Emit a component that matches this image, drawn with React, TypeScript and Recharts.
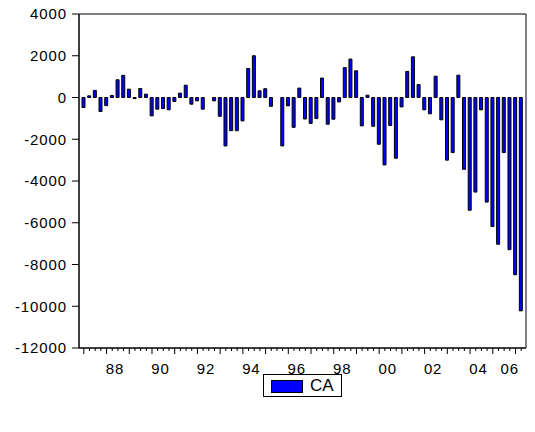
import React from "react";
import { BarChart, Bar, XAxis, YAxis, ReferenceArea } from "recharts";

// Quarterly series, 1987Q1 .. 2006Q2
const START_YEAR = 1987;

const caValues: number[] = [
  -480, 80, 340, -670,
  -390, 100, 850, 1060,
  400, -50, 430, 160,
  -880, -560, -530, -590,
  -190, 210, 590, -320,
  -160, -560, 0, -160,
  -900, -2320, -1590, -1590,
  -1120, 1390, 2000, 320,
  420, -420, 0, -2320,
  -400, -1430, 450, -1030,
  -1240, -1010, 930, -1280,
  -1040, -210, 1430, 1840,
  1280, -1360, 110, -1380,
  -2240, -3230, -1340, -2910,
  -450, 1250, 1950, 620,
  -590, -780, 1020, -1070,
  -3000, -2640, 1070, -3440,
  -5400, -4530, -590, -5010,
  -6180, -7030, -2640, -7290,
  -8490, -10220,
];

const quarterLabels: string[] = caValues.map(
  (_, i) => `${START_YEAR + Math.floor(i / 4)}Q${(i % 4) + 1}`
);

const yTicks: number[] = [-12000, -10000, -8000, -6000, -4000, -2000, 0, 2000, 4000];
const labelYears: number[] = [1988, 1990, 1992, 1994, 1996, 1998, 2000, 2002, 2004, 2006];
const xTickLabels: string[] = ["88", "90", "92", "94", "96", "98", "00", "02", "04", "06"];

const data = caValues.map((v, i) => ({ idx: i, quarter: quarterLabels[i], CA: v }));

// year label sits at the middle of the year, kept inside the frame for the last (partial) year
const lastIdx = caValues.length - 1;
const labelPositions = labelYears.map((y) => Math.min((y - START_YEAR) * 4 + 1.5, lastIdx - 2));
const labelMap: Record<string, string> = {};
labelPositions.forEach((p, i) => {
  labelMap[String(p)] = xTickLabels[i];
});
const quarterTicks = caValues.map((_, i) => i);
const xTicks = [...quarterTicks, ...labelPositions.filter((p) => !Number.isInteger(p))].sort(
  (a, b) => a - b
);
const integerLabelPositions = new Set(labelPositions.filter((p) => Number.isInteger(p)));

const X_PAD = 0.85;
const xDomain: [number, number] = [-X_PAD, lastIdx + X_PAD];

const FONT = "'Liberation Sans', Arial, sans-serif";

const XTick = (props: any) => {
  const { x, y, payload } = props;
  const v = payload.value as number;
  const label = labelMap[String(v)];
  const text = label ? (
    <text
      x={x}
      y={y + 26}
      textAnchor="middle"
      fontSize={15}
      fontFamily={FONT}
      letterSpacing={0.9}
      fill="#000"
    >
      {label}
    </text>
  ) : null;
  if (Number.isInteger(v)) {
    const len = v % 4 === 0 ? 6 : 3;
    return (
      <g>
        <line x1={x} x2={x} y1={y} y2={y + len} stroke="#000" strokeWidth={1} />
        {integerLabelPositions.has(v) ? text : null}
      </g>
    );
  }
  return text;
};

export default function App() {
  return (
    <div
      style={{
        position: "relative",
        width: 535,
        height: 432,
        margin: "-8px 0 0 -8px",
        fontFamily: FONT,
      }}
    >
      <BarChart
        width={527}
        height={378}
        data={data}
        margin={{ top: 14, right: 1, bottom: 0, left: 8 }}
      >
        <XAxis
          dataKey="idx"
          type="number"
          domain={xDomain}
          ticks={xTicks}
          interval={0}
          tick={<XTick />}
          tickLine={false}
          tickSize={0}
          tickMargin={0}
          height={30}
          stroke="#000"
          allowDataOverflow
        />
        <YAxis
          type="number"
          domain={[-12000, 4000]}
          ticks={yTicks}
          interval={0}
          width={71}
          tickSize={7}
          tickMargin={5}
          stroke="#000"
          tick={{ fill: "#000", fontSize: 15, fontFamily: FONT, letterSpacing: 0.9 }}
          allowDataOverflow
        />
        <Bar
          dataKey="CA"
          fill="#0000FF"
          stroke="#000"
          strokeWidth={1}
          barSize={3}
          isAnimationActive={false}
        />
        <ReferenceArea
          x1={xDomain[0]}
          x2={xDomain[1]}
          y1={-12000}
          y2={4000}
          fill="none"
          fillOpacity={0}
          stroke="#000"
          strokeWidth={1}
          ifOverflow="visible"
        />
      </BarChart>
      <div
        style={{
          position: "absolute",
          left: 263,
          top: 374,
          width: 79,
          height: 23,
          border: "1px solid #000",
          boxSizing: "border-box",
        }}
      >
        <div
          style={{
            position: "absolute",
            left: 7,
            top: 5,
            width: 32,
            height: 13,
            background: "#0000FF",
            border: "1px solid #000",
            boxSizing: "border-box",
          }}
        />
        <div
          style={{
            position: "absolute",
            left: 46,
            top: 1,
            fontSize: 17,
            lineHeight: "20px",
            fontFamily: FONT,
            color: "#000",
          }}
        >
          CA
        </div>
      </div>
    </div>
  );
}
